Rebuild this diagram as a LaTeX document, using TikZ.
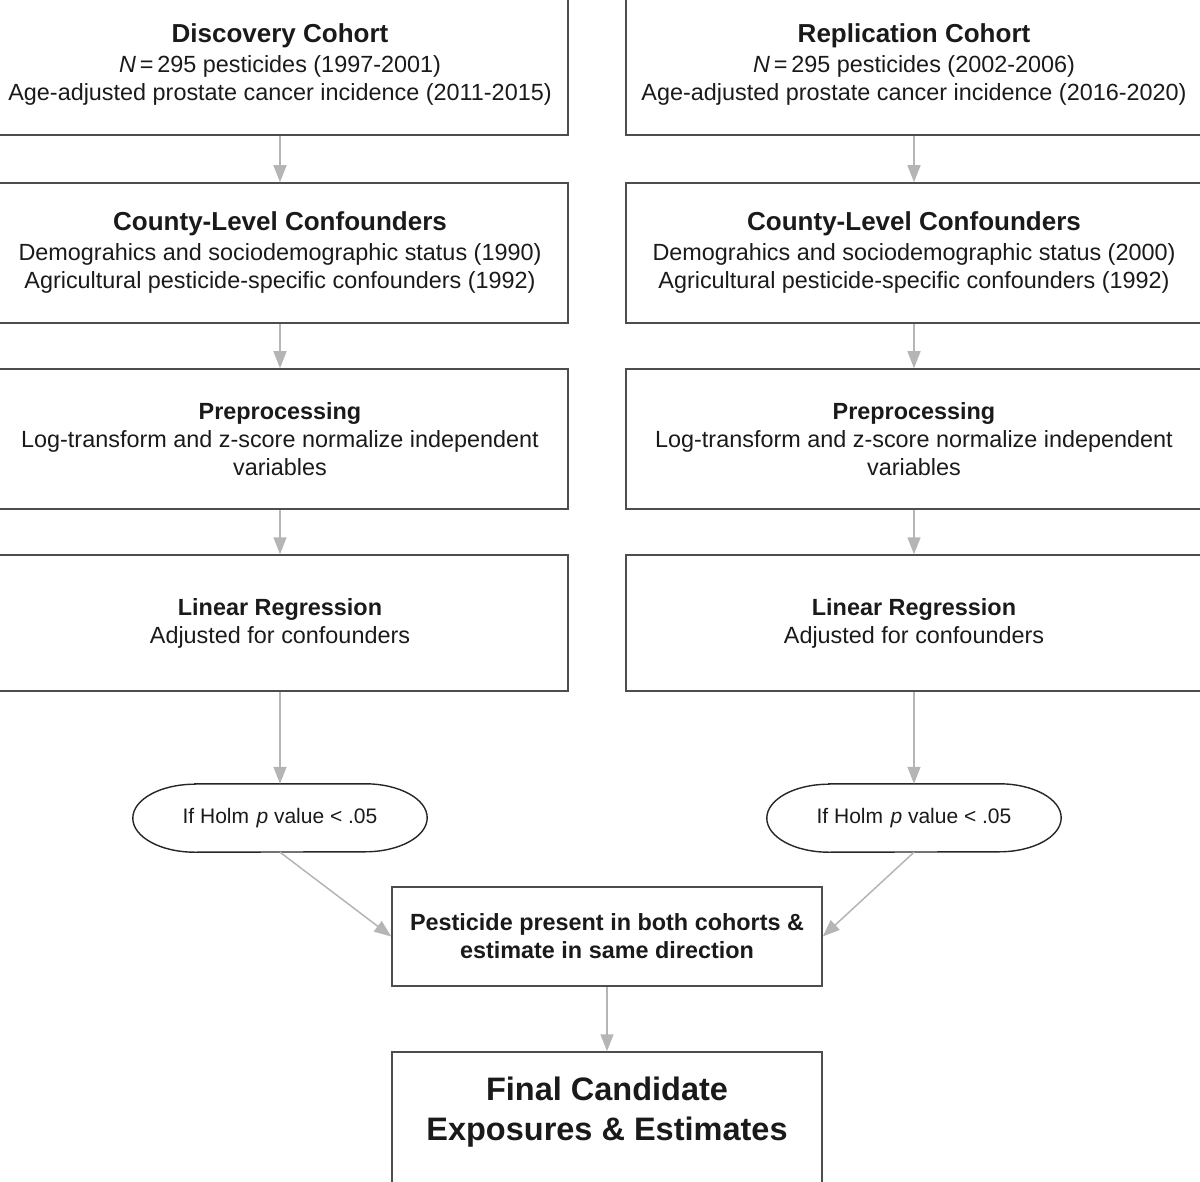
\documentclass[tikz,border=0pt]{standalone}
\usepackage{fontspec}
\setmainfont{Liberation Sans}
\usetikzlibrary{arrows.meta}
\definecolor{boxline}{HTML}{4D4D4D}
\definecolor{arrowgray}{HTML}{B5B5B5}
\definecolor{txt}{HTML}{1A1A1A}
\newcommand{\bodyfont}{\fontsize{23.4}{28}\selectfont}
\newcommand{\headfont}{\fontsize{26}{30}\selectfont\bfseries}
\begin{document}
\begin{tikzpicture}[x=1pt,y=-1pt,
  stepbox/.style={draw=boxline, line width=1.5pt, minimum width=576pt, minimum height=140pt,
    align=center, text=txt, font=\bodyfont, inner sep=0pt},
  midbox/.style={draw=boxline, line width=1.5pt, minimum width=430pt, minimum height=99pt,
    align=center, text=txt, font=\bodyfont\bfseries, inner sep=0pt},
  finbox/.style={draw=boxline, line width=1.5pt, minimum width=430pt, minimum height=140pt, inner sep=0pt},
  fintext/.style={align=center, text=txt, font=\fontsize{32.5}{40}\selectfont\bfseries, inner sep=0pt},
  ovalbox/.style={minimum width=294pt, minimum height=68pt, inner sep=0pt, text=txt,
    font=\fontsize{21}{25}\selectfont},
  ovalline/.style={draw=black!85, line width=1.4pt},
  arr/.style={draw=arrowgray, line width=1.5pt, -{Triangle[length=17pt,width=13pt]}, shorten >=0pt}
]
\useasboundingbox (0,0) rectangle (1200,1182);

% Left column
\node[stepbox] (d1) at (280,65) {{\headfont Discovery Cohort}\\[2pt]
  \textit{N}\,=\,295 pesticides (1997-2001)\\
  Age-adjusted prostate cancer incidence (2011-2015)};
\node[stepbox] (d2) at (280,253) {{\headfont County-Level Confounders}\\[2pt]
  Demograhics and sociodemographic status (1990)\\
  Agricultural pesticide-specific confounders (1992)};
\node[stepbox] (d3) at (280,439) {\textbf{Preprocessing}\\
  Log-transform and z-score normalize independent\\
  variables};
\node[stepbox, minimum height=136pt] (d4) at (280,623) {\textbf{Linear Regression}\\
  Adjusted for confounders};

% Right column
\node[stepbox] (r1) at (914,65) {{\headfont Replication Cohort}\\[2pt]
  \textit{N}\,=\,295 pesticides (2002-2006)\\
  Age-adjusted prostate cancer incidence (2016-2020)};
\node[stepbox] (r2) at (914,253) {{\headfont County-Level Confounders}\\[2pt]
  Demograhics and sociodemographic status (2000)\\
  Agricultural pesticide-specific confounders (1992)};
\node[stepbox] (r3) at (914,439) {\textbf{Preprocessing}\\
  Log-transform and z-score normalize independent\\
  variables};
\node[stepbox, minimum height=136pt] (r4) at (914,623) {\textbf{Linear Regression}\\
  Adjusted for confounders};

% Ovals
\node[ovalbox] (e1) at (280,818) {If Holm\hspace{0.35em}\textit{p} value < .05};
\node[ovalbox] (e2) at (914,818) {If Holm\hspace{0.35em}\textit{p} value < .05};
\foreach \e in {e1,e2}{
  \draw[ovalline] ([xshift=62pt]\e.north west) -- ([xshift=-62pt]\e.north east)
    arc[start angle=90, end angle=-90, x radius=62pt, y radius=34pt]
    -- ([xshift=62pt]\e.south west)
    arc[start angle=270, end angle=90, x radius=62pt, y radius=34pt] -- cycle;
}

% Merge and final
\node[midbox] (mid) at (607,936.5) {Pesticide present in both cohorts \&\\
  estimate in same direction};
\node[finbox] (fin) at (607,1122) {};
\node[fintext] (fint) at (607,1112) {Final Candidate\\Exposures \& Estimates};

% Connectors
\draw[arr] (d1) -- (d2);
\draw[arr] (d2) -- (d3);
\draw[arr] (d3) -- (d4);
\draw[arr] (d4) -- (e1);
\draw[arr] (r1) -- (r2);
\draw[arr] (r2) -- (r3);
\draw[arr] (r3) -- (r4);
\draw[arr] (r4) -- (e2);
\draw[arr] (e1.south) -- (mid.west);
\draw[arr] (e2.south) -- (mid.east);
\draw[arr] (mid) -- (fin);
\end{tikzpicture}
\end{document}
